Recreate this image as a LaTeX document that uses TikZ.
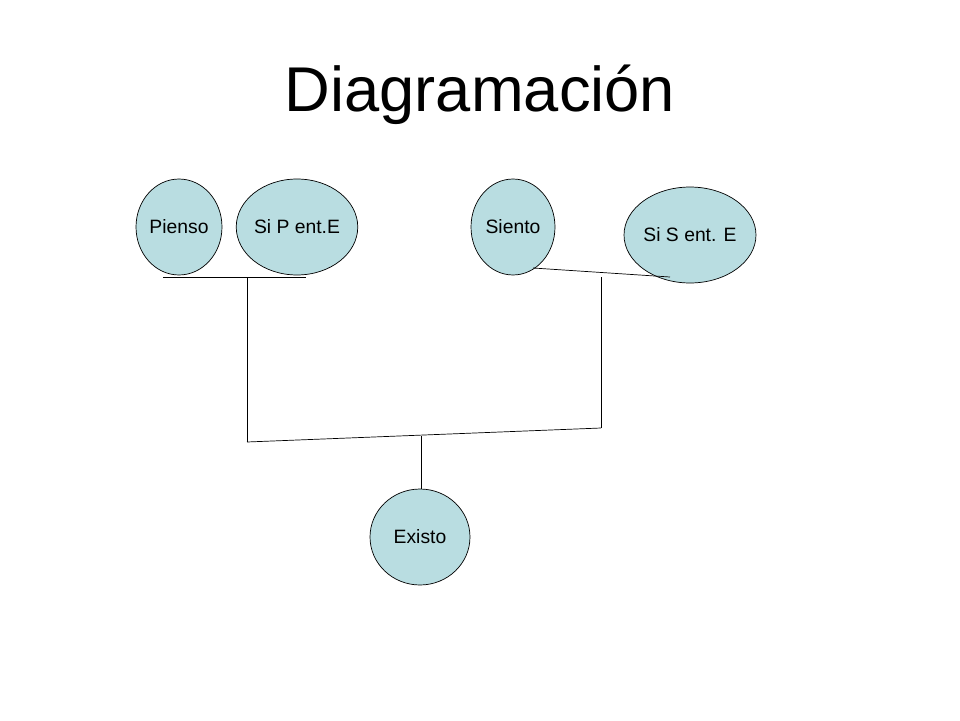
\documentclass[tikz,border=0pt]{standalone}
\usepackage{fontspec}
\setmainfont{Liberation Sans}
\usetikzlibrary{shapes.geometric}
\definecolor{bubble}{HTML}{B9DDE1}
\begin{document}
\begin{tikzpicture}[x=0.02cm,y=-0.02cm]
\tikzstyle{idea}=[draw, ellipse, fill=bubble, inner sep=0pt, font=\fontsize{11}{13}\selectfont]
\tikzstyle{link}=[draw, thin]
\useasboundingbox (0,0) rectangle (960,720);
\node[font=\fontsize{36}{40}\selectfont] (title) at (480,95) {Diagramación};
\node[idea, minimum width=86\pgflinewidth*0+1.72cm, minimum height=1.92cm] (pienso) at (179,227) {Pienso};
\node[idea, minimum width=2.24cm, minimum height=1.92cm] (sip) at (297,227) {Si P ent.E};
\node[idea, minimum width=1.68cm, minimum height=1.92cm] (siento) at (513,227) {Siento};
\node[idea, minimum width=2.64cm, minimum height=1.92cm] (sis) at (690,235) {Si S ent. E};
\node[idea, minimum width=2cm, minimum height=1.92cm] (existo) at (420,537) {Existo};

\coordinate (p1) at (163,277);
\coordinate (p2) at (306,277);
\coordinate (p3) at (247,277);
\coordinate (p4) at (247,442);
\coordinate (s1) at (533,268);
\coordinate (s2) at (670,277);
\coordinate (s3) at (601,277);
\coordinate (s4) at (601,428);
\coordinate (m1) at (421,436);

\draw[link] (p1) -- (p2);
\draw[link] (p3) -- (p4);
\draw[link] (s1) -- (s2);
\draw[link] (s3) -- (s4);
\draw[link] (p4) -- (s4);
\draw[link] (m1) -- (m1 |- existo.north);
\end{tikzpicture}
\end{document}
